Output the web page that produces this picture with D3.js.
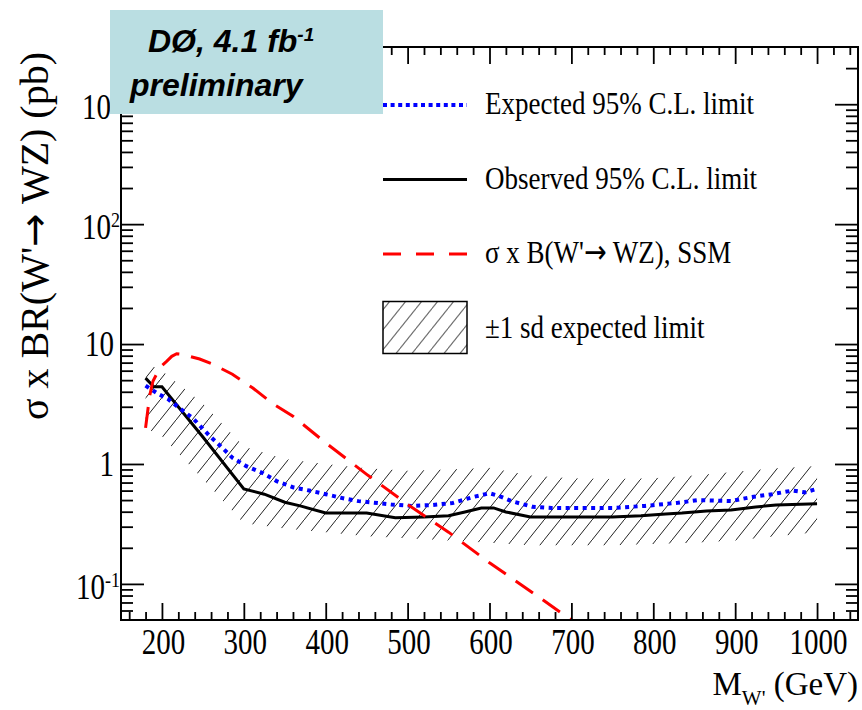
<!DOCTYPE html>
<html>
<head>
<meta charset="utf-8">
<script src="https://cdn.jsdelivr.net/npm/d3@7"></script>
<style>
body { margin: 0; background: #fff; }
svg { display: block; background: #fff; }
</style>
</head>
<body>
<svg></svg>
<script>
//////////// Data

// Observed 95% C.L. limit
var massObs = [180, 190, 200, 250, 300, 325, 350, 370, 400, 450, 485, 520, 550, 570, 590, 605, 620, 650, 750, 785, 815, 835, 865, 895, 925, 950, 1000];
var sigmaObs = [5.2, 4.4, 4.4, 1.68, 0.62, 0.56, 0.48, 0.445, 0.39, 0.39, 0.356, 0.362, 0.37, 0.398, 0.43, 0.43, 0.398, 0.362, 0.362, 0.37, 0.383, 0.39, 0.406, 0.414, 0.438, 0.455, 0.465];

// Expected 95% C.L. limit
var massExp = [180, 195, 207, 222, 238, 258, 271, 286, 303, 323, 340, 360, 380, 400, 420, 440, 480, 505, 530, 555, 580, 600, 612, 627, 652, 676, 750, 790, 830, 855, 895, 920, 945, 970, 985, 1000];
var sigmaExp = [4.5, 3.85, 3.5, 2.9, 2.4, 1.72, 1.42, 1.13, 0.96, 0.84, 0.72, 0.64, 0.6, 0.56, 0.52, 0.49, 0.46, 0.447, 0.455, 0.473, 0.53, 0.57, 0.54, 0.49, 0.44, 0.43, 0.43, 0.447, 0.475, 0.5, 0.49, 0.53, 0.56, 0.6, 0.58, 0.62];

// SSM cross section x BR
var massSSM = [180, 185, 189, 194, 200, 206, 212, 218, 225, 246, 262, 286, 311, 335, 360, 400, 450, 500, 550, 600, 650, 700, 720];
var sigmaSSM = [2.0, 3.7, 4.9, 5.7, 6.6, 7.2, 7.9, 8.3, 8.2, 7.5, 6.8, 5.6, 4.3, 3.2, 2.5, 1.5, 0.82, 0.46, 0.27, 0.15, 0.087, 0.05, 0.04];

// +-1 sd band on the expected limit
var massBand = [180, 200, 250, 300, 350, 400, 450, 500, 550, 600, 650, 700, 750, 800, 850, 900, 950, 1000];
var bandLow = [2.0, 1.7, 0.75, 0.32, 0.29, 0.27, 0.25, 0.24, 0.23, 0.22, 0.21, 0.21, 0.21, 0.215, 0.22, 0.23, 0.25, 0.27];
var bandHigh = [7.0, 6.0, 3.2, 1.4, 1.1, 1.0, 0.92, 0.88, 0.9, 0.93, 0.8, 0.76, 0.75, 0.76, 0.8, 0.86, 0.92, 0.96];

// Axis ticks
var xTicks = [200, 300, 400, 500, 600, 700, 800, 900, 1000];
var yTicks = [0.1, 1, 10, 100, 1000];
var yTickBase = ["10", "1", "10", "10", "10"];
var yTickExp = ["-1", "", "", "2", "3"];

var legendLabels = ["Expected 95% C.L. limit", "Observed 95% C.L. limit", "\u03c3 x B(W'\u2192 WZ), SSM", "\u00b11 sd expected limit"];

//////////// Layout

var WIDTH = 862, HEIGHT = 710,
	PLOT = {left: 121, right: 858, top: 47, bottom: 620},
	MAJOR_X = 17, MINOR_X = 8, // tick lengths on the x axes
	MAJOR_Y = 23, MINOR_Y = 12, // tick lengths on the y axes
	STRETCH = 1.2; // the original picture is squashed sideways, so serif text is taller than usual

var SERIF = "'Liberation Serif', 'Times New Roman', serif",
	SANS = "'Liberation Sans', Arial, sans-serif",
	ARROW_FONT = "'DejaVu Sans', sans-serif";

var svg = d3.select("svg")
	.attr("width", WIDTH)
	.attr("height", HEIGHT);

var x = d3.scaleLinear().domain([150, 1050]).range([PLOT.left, PLOT.right]);
var y = d3.scaleLog().domain([0.05, 3000]).range([PLOT.bottom, PLOT.top]);

// Write a label whose arrow is drawn with a font that has a long arrow glyph
function arrowText(sel, str) {
	str.split("\u2192").forEach(function(part, i) {
		if (i > 0) sel.append("tspan").style("font-family", ARROW_FONT).text("\u2192");
		sel.append("tspan").text(part);
	});
}

var defs = svg.append("defs");

// "/" hatching, 16 px apart horizontally
var HATCH_W = 16, HATCH_H = 20;
defs.append("pattern")
	.attr("id", "hatch")
	.attr("patternUnits", "userSpaceOnUse")
	.attr("width", HATCH_W)
	.attr("height", HATCH_H)
  .append("line")
	.attr("x1", -1).attr("y1", HATCH_H + HATCH_H / HATCH_W)
	.attr("x2", HATCH_W + 1).attr("y2", -HATCH_H / HATCH_W)
	.attr("stroke", "#222")
	.attr("stroke-width", 1);

defs.append("clipPath")
	.attr("id", "plotclip")
  .append("rect")
	.attr("x", PLOT.left).attr("y", PLOT.top)
	.attr("width", PLOT.right - PLOT.left)
	.attr("height", PLOT.bottom - PLOT.top);

//////////// Curves

var plot = svg.append("g").attr("clip-path", "url(#plotclip)");

var band = massBand.map(function(m, i) { return {m: m, lo: bandLow[i], hi: bandHigh[i]}; });
plot.append("path")
	.datum(band)
	.attr("fill", "url(#hatch)")
	.attr("d", d3.area()
		.x(function(d) { return x(d.m); })
		.y0(function(d) { return y(d.lo); })
		.y1(function(d) { return y(d.hi); }));

var line = d3.line()
	.x(function(d) { return x(d[0]); })
	.y(function(d) { return y(d[1]); });

plot.append("path")
	.datum(d3.zip(massObs, sigmaObs))
	.attr("fill", "none")
	.attr("stroke", "#000")
	.attr("stroke-width", 3)
	.attr("d", line);

plot.append("path")
	.datum(d3.zip(massExp, sigmaExp))
	.attr("fill", "none")
	.attr("stroke", "#0000ff")
	.attr("stroke-width", 4)
	.attr("stroke-dasharray", "4,4.5")
	.attr("d", line);

plot.append("path")
	.datum(d3.zip(massSSM, sigmaSSM))
	.attr("fill", "none")
	.attr("stroke", "#ff0000")
	.attr("stroke-width", 3)
	.attr("stroke-dasharray", "21,12")
	.attr("d", line);

//////////// Axes (ticks point inwards on all four sides)

var xMinor = d3.range(160, 1050, 20).filter(function(v) { return v % 100 !== 0; });
var yMinor = [];
d3.range(-2, 4).forEach(function(p) {
	d3.range(2, 10).forEach(function(k) {
		var v = k * Math.pow(10, p);
		if (v > 0.05 && v < 3000) yMinor.push(v);
	});
});

function drawAxis(axis, tx, ty) {
	var g = svg.append("g")
		.attr("transform", "translate(" + tx + "," + ty + ")")
		.call(axis);
	g.select(".domain").remove();
	g.selectAll("line").attr("stroke", "#000").attr("stroke-width", 1.8);
	return g;
}

var xAxis = drawAxis(d3.axisBottom(x).tickValues(xTicks).tickSize(-MAJOR_X).tickFormat(d3.format("d")), 0, PLOT.bottom);
drawAxis(d3.axisBottom(x).tickValues(xMinor).tickSize(-MINOR_X).tickFormat(""), 0, PLOT.bottom);
drawAxis(d3.axisTop(x).tickValues(xTicks).tickSize(-MAJOR_X).tickFormat(""), 0, PLOT.top);
drawAxis(d3.axisTop(x).tickValues(xMinor).tickSize(-MINOR_X).tickFormat(""), 0, PLOT.top);
drawAxis(d3.axisLeft(y).tickValues(yTicks).tickSize(-MAJOR_Y).tickFormat(""), PLOT.left, 0);
drawAxis(d3.axisLeft(y).tickValues(yMinor).tickSize(-MINOR_Y).tickFormat(""), PLOT.left, 0);
drawAxis(d3.axisRight(y).tickValues(yTicks).tickSize(-MAJOR_Y).tickFormat(""), PLOT.right, 0);
drawAxis(d3.axisRight(y).tickValues(yMinor).tickSize(-MINOR_Y).tickFormat(""), PLOT.right, 0);

xAxis.selectAll("text")
	.attr("y", 0).attr("dy", 0)
	.attr("transform", "translate(1,34) scale(1," + STRETCH + ")")
	.attr("fill", "#000")
	.style("font-family", SERIF)
	.style("font-size", "29px");

// frame
svg.append("rect")
	.attr("x", PLOT.left).attr("y", PLOT.top)
	.attr("width", PLOT.right - PLOT.left)
	.attr("height", PLOT.bottom - PLOT.top)
	.attr("fill", "none")
	.attr("stroke", "#000")
	.attr("stroke-width", 2);

// y tick labels, 10 with superscript powers
var yLab = svg.selectAll("dummy")
	.data(yTicks)
  .enter().append("text")
	.attr("text-anchor", "end")
	.attr("transform", function(d, i) {
			var dy = yTickExp[i] ? 15 : 12;
			return "translate(" + (yTickExp[i] ? 120 : 114) + "," + (y(d) + dy) + ") scale(1," + STRETCH + ")";
		})
	.style("font-family", SERIF)
	.style("font-size", "29px")
	.text(function(d, i) { return yTickBase[i]; });

yLab.append("tspan")
	.attr("dy", -10)
	.style("font-size", "18px")
	.text(function(d, i) { return yTickExp[i]; });

//////////// Axis titles

var yTitle = svg.append("text")
	.attr("transform", "translate(48,236) rotate(-90)")
	.attr("text-anchor", "middle")
	.attr("textLength", 368)
	.attr("lengthAdjust", "spacingAndGlyphs")
	.style("font-family", SERIF)
	.style("font-size", "40px");
arrowText(yTitle, "\u03c3 x BR(W'\u2192 WZ) (pb)");

var xTitle = svg.append("text")
	.attr("x", 858)
	.attr("y", 695)
	.attr("text-anchor", "end")
	.style("font-family", SERIF)
	.style("font-size", "33px")
	.text("M");
xTitle.append("tspan").attr("dy", 10).style("font-size", "21px").text("W'");
xTitle.append("tspan").attr("dy", -10).text(" (GeV)");

//////////// Legend

var LEG_X0 = 383, LEG_X1 = 467, LEG_Y0 = 105, LEG_STEP = 74.5;

var legend = svg.selectAll("dummy")
	.data(legendLabels)
  .enter().append("g")
	.attr("transform", function(d, i) { return "translate(0," + (LEG_Y0 + i * LEG_STEP) + ")"; });

legend.append("text")
	.attr("transform", "translate(485,9) scale(1," + STRETCH + ")")
	.style("font-family", SERIF)
	.style("font-size", "27px")
	.each(function(d) { arrowText(d3.select(this), d); });

var legStyles = [
	{stroke: "#0000ff", width: 4, dash: "4,3.6"},
	{stroke: "#000", width: 3, dash: null},
	{stroke: "#ff0000", width: 3, dash: "18,15"}
];
legend.filter(function(d, i) { return i < 3; })
  .append("line")
	.attr("x1", LEG_X0).attr("x2", LEG_X1)
	.attr("y1", 0).attr("y2", 0)
	.attr("stroke", function(d, i) { return legStyles[i].stroke; })
	.attr("stroke-width", function(d, i) { return legStyles[i].width; })
	.attr("stroke-dasharray", function(d, i) { return legStyles[i].dash; });

legend.filter(function(d, i) { return i === 3; })
  .append("rect")
	.attr("x", LEG_X0).attr("y", -27)
	.attr("width", LEG_X1 - LEG_X0).attr("height", 52)
	.attr("fill", "url(#hatch)")
	.attr("stroke", "#000")
	.attr("stroke-width", 1.5);

//////////// DØ label box (covers the corner of the frame)

svg.append("rect")
	.attr("x", 110).attr("y", 10)
	.attr("width", 273).attr("height", 104)
	.attr("fill", "#badee2");

var d0 = svg.append("text")
	.attr("x", 148).attr("y", 52)
	.style("font-family", SANS)
	.style("font-weight", "bold")
	.style("font-style", "italic")
	.style("font-size", "32px")
	.text("D\u00d8, 4.1 fb");
d0.append("tspan").attr("dy", -11).style("font-size", "19px").text("-1");

svg.append("text")
	.attr("x", 130).attr("y", 96)
	.style("font-family", SANS)
	.style("font-weight", "bold")
	.style("font-style", "italic")
	.style("font-size", "32px")
	.text("preliminary");
</script>
</body>
</html>
